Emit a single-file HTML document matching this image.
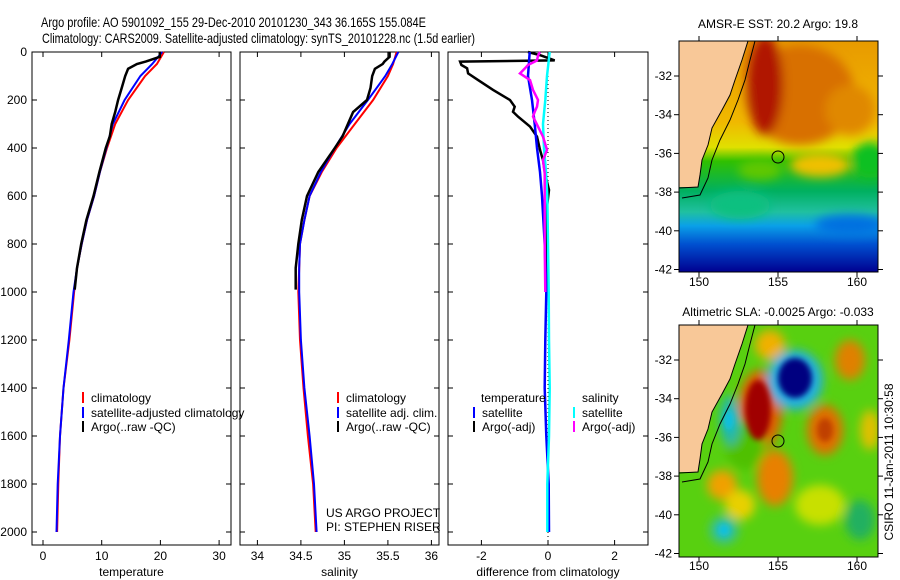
<!DOCTYPE html>
<html><head><meta charset="utf-8"><style>
html,body{margin:0;padding:0;background:#fff;}
svg{display:block;font-family:"Liberation Sans",sans-serif;}
text{font-size:12px;fill:#000;}
</style></head><body>
<svg id="chart" width="900" height="580" viewBox="0 0 900 580">
<defs>
  <filter id="blur4" x="-50%" y="-50%" width="200%" height="200%"><feGaussianBlur stdDeviation="5"/></filter>
  <filter id="blur2" x="-50%" y="-50%" width="200%" height="200%"><feGaussianBlur stdDeviation="3"/></filter>
  <clipPath id="clipTop"><rect x="679" y="41" width="199" height="231"/></clipPath>
  <clipPath id="clipBot"><rect x="679" y="325" width="199" height="232"/></clipPath>
  <linearGradient id="sstGrad" x1="0" y1="41" x2="0" y2="272" gradientUnits="userSpaceOnUse">
    <stop offset="0" stop-color="#e89a00"/>
    <stop offset="0.35" stop-color="#f0b800"/>
    <stop offset="0.46" stop-color="#e0e000"/>
    <stop offset="0.52" stop-color="#30c000"/>
    <stop offset="0.65" stop-color="#00b060"/>
    <stop offset="0.74" stop-color="#20c0a0"/>
    <stop offset="0.8" stop-color="#0aa0e8"/>
    <stop offset="0.88" stop-color="#0050d0"/>
    <stop offset="1" stop-color="#000090"/>
  </linearGradient>
</defs>

<text x="41" y="27" style="font-size:14px" textLength="385" lengthAdjust="spacingAndGlyphs">Argo profile: AO 5901092_155 29-Dec-2010 20101230_343 36.165S 155.084E</text>
<text x="42" y="43" style="font-size:14px" textLength="433" lengthAdjust="spacingAndGlyphs">Climatology: CARS2009. Satellite-adjusted climatology: synTS_20101228.nc (1.5d earlier)</text>

<g id="panels"></g>

<!-- SST map -->
<g>
  <text x="778" y="28" text-anchor="middle">AMSR-E SST: 20.2  Argo: 19.8</text>
  <g clip-path="url(#clipTop)">
    <rect x="679" y="41" width="199" height="231" fill="url(#sstGrad)"/>
    <g filter="url(#blur4)">
      <ellipse cx="800" cy="95" rx="55" ry="50" fill="#d87000"/>
      <ellipse cx="765" cy="85" rx="18" ry="50" fill="#b01800"/>
      <ellipse cx="850" cy="110" rx="25" ry="25" fill="#e08800"/>
      <ellipse cx="870" cy="160" rx="18" ry="18" fill="#10c020"/>
      <ellipse cx="820" cy="165" rx="30" ry="12" fill="#f0c000"/>
      <ellipse cx="760" cy="170" rx="22" ry="10" fill="#60c800"/>
      <ellipse cx="740" cy="205" rx="30" ry="14" fill="#10c080"/>
      <ellipse cx="850" cy="225" rx="35" ry="10" fill="#0070e0"/>
    </g>
    <polygon points="679,41 748,41 742,60 735,80 730,95 722,110 712,128 708,145 702,160 700,175 698,187 679,187" fill="#f8c898"/>
    <polyline points="748,41 742,60 735,80 730,95 722,110 712,128 708,145 702,160 700,175 698,187 679,188" fill="none" stroke="#000" stroke-width="1"/>
    <polyline points="755,41 750,60 745,80 738,100 730,120 720,140 712,160 708,178 700,195 682,198" fill="none" stroke="#000" stroke-width="1"/>
    <circle cx="778" cy="157" r="6" fill="none" stroke="#000" stroke-width="1"/>
  </g>
  <rect x="679" y="41" width="199" height="231" fill="none" stroke="#000" stroke-width="1"/>
</g>

<!-- SLA map -->
<g>
  <text x="778" y="316" text-anchor="middle">Altimetric SLA: -0.0025  Argo: -0.033</text>
  <g clip-path="url(#clipBot)">
    <rect x="679" y="325" width="199" height="232" fill="#58d010"/>
    <g filter="url(#blur4)">
      <ellipse cx="770" cy="345" rx="15" ry="15" fill="#f0b000"/>
      <ellipse cx="850" cy="360" rx="15" ry="20" fill="#e08000"/>
      <ellipse cx="760" cy="410" rx="22" ry="40" fill="#e06000"/>
      <ellipse cx="795" cy="380" rx="28" ry="30" fill="#20b0e0"/>
      <ellipse cx="745" cy="445" rx="20" ry="25" fill="#50c000"/>
      <ellipse cx="730" cy="420" rx="10" ry="25" fill="#20b8b0"/>
      <ellipse cx="825" cy="430" rx="18" ry="25" fill="#e07000"/>
      <ellipse cx="775" cy="478" rx="18" ry="28" fill="#e88000"/>
      <ellipse cx="722" cy="485" rx="15" ry="15" fill="#f0a000"/>
      <ellipse cx="740" cy="505" rx="15" ry="15" fill="#e8d000"/>
      <ellipse cx="724" cy="530" rx="14" ry="14" fill="#30c0a0"/>
      <ellipse cx="820" cy="505" rx="25" ry="20" fill="#c8e000"/>
      <ellipse cx="860" cy="520" rx="15" ry="20" fill="#20b060"/>
      <ellipse cx="870" cy="430" rx="10" ry="20" fill="#e0c000"/>
    </g>
    <g filter="url(#blur2)">
      <ellipse cx="758" cy="410" rx="13" ry="30" fill="#a00000"/>
      <ellipse cx="795" cy="378" rx="17" ry="20" fill="#000080"/>
      <ellipse cx="825" cy="430" rx="8" ry="12" fill="#c04000"/>
      <ellipse cx="729" cy="420" rx="5" ry="10" fill="#10c0e0"/>
      <ellipse cx="724" cy="530" rx="6" ry="6" fill="#10c0e0"/>
    </g>
    <polygon points="679,325 748,325 742,344 735,364 730,379 722,394 712,412 708,429 702,444 700,459 698,472 679,472" fill="#f8c898"/>
    <polyline points="748,325 742,344 735,364 730,379 722,394 712,412 708,429 702,444 700,459 698,472 679,473" fill="none" stroke="#000" stroke-width="1"/>
    <polyline points="755,325 750,344 745,364 738,384 730,404 720,424 712,444 708,462 700,479 682,482" fill="none" stroke="#000" stroke-width="1"/>
    <circle cx="778" cy="441" r="6" fill="none" stroke="#000" stroke-width="1"/>
  </g>
  <rect x="679" y="325" width="199" height="232" fill="none" stroke="#000" stroke-width="1"/>
</g>
<g id="mapAxes"></g>
<text transform="translate(893,462) rotate(-90)" text-anchor="middle">CSIRO 11-Jan-2011 10:30:58</text>

<script>
// ---- data ----
const clim_depth = [0,50,100,200,300,400,500,600,700,800,900,1000,1200,1400,1600,1800,2000];
const temp_clim = [20.6,19.4,17.4,14.5,12.3,10.9,9.7,8.7,7.5,6.6,5.8,5.3,4.5,3.5,2.9,2.6,2.4];
const temp_sat  = [20.3,18.6,16.6,13.9,11.9,10.8,9.7,8.7,7.5,6.6,5.8,5.2,4.4,3.5,2.9,2.5,2.3];
const sal_clim  = [35.60,35.56,35.50,35.33,35.12,34.91,34.74,34.60,34.54,34.49,34.48,34.47,34.49,34.53,34.58,34.64,34.67];
const sal_sat   = [35.62,35.55,35.47,35.27,35.06,34.89,34.73,34.60,34.54,34.49,34.48,34.48,34.50,34.54,34.60,34.65,34.68];
const argo_depth = [0,20,40,50,70,100,150,200,250,300,350,400,500,600,700,800,900,990];
const temp_argo = [19.9,19.9,17.5,16.0,14.5,14.0,13.4,12.8,12.3,11.7,11.4,10.7,9.6,8.6,7.4,6.5,5.8,5.4];
const sal_argo  = [35.52,35.52,35.46,35.44,35.35,35.32,35.30,35.26,35.10,35.04,34.98,34.89,34.70,34.57,34.51,34.47,34.44,34.44];
const diff_depth = [0,15,35,40,54,68,89,117,158,200,228,249,269,311,353,408,450,506,575,644,800,1000];
const dT_argo = [-0.6,-0.2,0.2,-2.64,-2.6,-2.43,-2.4,-2.1,-1.65,-1.14,-1.0,-1.05,-0.9,-0.54,-0.33,-0.24,-0.15,-0.09,0.03,-0.03,-0.05,-0.05];
const dS_argo = [-0.24,-0.3,-0.33,-0.4,-0.6,-0.69,-0.84,-0.54,-0.45,-0.3,-0.33,-0.4,-0.45,-0.3,-0.15,-0.03,-0.15,-0.1,-0.1,-0.1,-0.1,-0.08];
const sat_depth = [0,100,200,300,400,500,600,800,1000,1200,1400,1600,1800,2000];
const dT_sat = [-0.55,-0.6,-0.48,-0.4,-0.33,-0.24,-0.18,-0.1,-0.05,-0.08,-0.1,-0.05,0.02,0.03];
const dS_sat = [0.05,-0.03,-0.08,-0.15,-0.12,-0.06,-0.02,0,0.02,0.03,0.05,0.03,-0.02,-0.02];
const depth_ticks = [0,200,400,600,800,1000,1200,1400,1600,1800,2000];
const temp_ticks = [0,10,20,30];
const sal_ticks = [34,34.5,35,35.5,36];
const diff_ticks = [-2,0,2];
const lat_ticks = [-32,-34,-36,-38,-40,-42];
const lon_ticks = [150,155,160];

// ---- axes ----
const NS = "http://www.w3.org/2000/svg";
const yD = d => 52 + d*0.24;
const xT = v => 43 + v*5.87;
const xS = v => 240 + (v-33.8)*87;
const xDf = v => 548 + v*33.3;
const panels = document.getElementById('panels');
function mk(tag, attrs, parent){ const e=document.createElementNS(NS,tag); for(const k in attrs) e.setAttribute(k,attrs[k]); (parent||panels).appendChild(e); return e; }
function txt(x,y,s,anchor,parent){ const t=mk('text',{x:x,y:y,'text-anchor':anchor||'start'},parent); t.textContent=s; return t; }

const P = [
  {x0:32,x1:231,fx:xT,ticks:temp_ticks,title:'temperature',name:'temperature-panel'},
  {x0:240,x1:439,fx:xS,ticks:sal_ticks,title:'salinity',name:'salinity-panel'},
  {x0:448,x1:648,fx:xDf,ticks:diff_ticks,title:'difference from climatology',name:'difference-panel'}
];
P.forEach((p,i)=>{
  const g = mk('g',{});
  
  
  const r = mk('rect',{x:p.x0,y:52,width:p.x1-p.x0,height:493,fill:'none',stroke:'#000','stroke-width':1},g);
  
  
  depth_ticks.forEach(d=>{
    mk('line',{x1:p.x0,x2:p.x0+5,y1:yD(d),y2:yD(d),stroke:'#000'},g);
    mk('line',{x1:p.x1,x2:p.x1-5,y1:yD(d),y2:yD(d),stroke:'#000'},g);
  });
  p.ticks.forEach(v=>{
    const x=p.fx(v);
    mk('line',{x1:x,x2:x,y1:52,y2:57,stroke:'#000'},g);
    mk('line',{x1:x,x2:x,y1:545,y2:540,stroke:'#000'},g);
    const t = txt(x,560,String(v),'middle',g);
    
    
  });
  const tt = txt((p.x0+p.x1)/2,576,p.title,'middle',g);
  
  
});
depth_ticks.forEach(d=>{
  const t = txt(27,yD(d)+4,String(d),'end');
  
  
});

function line(xs, ds, fx, color, w, name){
  const pts = xs.map((v,i)=>fx(v).toFixed(1)+','+yD(ds[i]).toFixed(1)).join(' ');
  const pl = mk('polyline',{points:pts,fill:'none',stroke:color,'stroke-width':w,'stroke-linejoin':'miter'});
  
  
}
line(temp_clim, clim_depth, xT, '#f00', 2, 'temp-climatology-line');
line(temp_sat, clim_depth, xT, '#00f', 2, 'temp-satellite-line');
line(temp_argo, argo_depth, xT, '#000', 2.5, 'temp-argo-line');
line(sal_clim, clim_depth, xS, '#f00', 2, 'sal-climatology-line');
line(sal_sat, clim_depth, xS, '#00f', 2, 'sal-satellite-line');
line(sal_argo, argo_depth, xS, '#000', 2.5, 'sal-argo-line');
const zl = mk('line',{x1:xDf(0),x2:xDf(0),y1:52,y2:545,stroke:'#000','stroke-dasharray':'1,3'});


line(dT_argo, diff_depth, xDf, '#000', 2.5, 'diff-temp-argo-line');
line(dT_sat, sat_depth, xDf, '#00f', 2.5, 'diff-temp-satellite-line');
line(dS_sat, sat_depth, xDf, '#0ff', 2.5, 'diff-sal-satellite-line');
line(dS_argo, diff_depth, xDf, '#f0f', 2.5, 'diff-sal-argo-line');

function legend(x, y, color, label, name){
  const g = mk('g',{});
  
  
  mk('rect',{x:x,y:y-10,width:2,height:11,fill:color},g);
  txt(x+9,y,label,'start',g);
}
legend(82,402,'#f00','climatology','legend-climatology');
legend(82,417,'#00f','satellite-adjusted climatology','legend-satellite-adjusted');
legend(82,431,'#000','Argo(..raw -QC)','legend-argo');
legend(337,402,'#f00','climatology','legend-sal-climatology');
legend(337,417,'#00f','satellite adj. clim.','legend-sal-satellite');
legend(337,431,'#000','Argo(..raw -QC)','legend-sal-argo');
txt(481,402,'temperature');
txt(582,402,'salinity');
legend(473,417,'#00f','satellite','legend-diff-temp-satellite');
legend(473,431,'#000','Argo(-adj)','legend-diff-temp-argo');
legend(573,417,'#0ff','satellite','legend-diff-sal-satellite');
legend(573,431,'#f0f','Argo(-adj)','legend-diff-sal-argo');
txt(326,517,'US ARGO PROJECT');
txt(326,531,'PI: STEPHEN RISER');

// map axes
const ma = document.getElementById('mapAxes');
const lonX = v => 699 + (v-150)*15.8;
[{top:41,bot:272,lat0:76,lab:286},{top:325,bot:557,lat0:360,lab:570}].forEach(m=>{
  lat_ticks.forEach((v,i)=>{
    const y = m.lat0 + i*38.7;
    mk('line',{x1:674,x2:679,y1:y,y2:y,stroke:'#000'},ma);
    mk('line',{x1:878,x2:883,y1:y,y2:y,stroke:'#000'},ma);
    const t = txt(672,y+4,String(v),'end',ma);
    
    
  });
  lon_ticks.forEach(v=>{
    const x = lonX(v);
    mk('line',{x1:x,x2:x,y1:m.top-5,y2:m.top,stroke:'#000'},ma);
    mk('line',{x1:x,x2:x,y1:m.bot,y2:m.bot+5,stroke:'#000'},ma);
    const t = txt(x,m.lab,String(v),'middle',ma);
    
    
  });
});
</script>
</svg>
</body></html>
